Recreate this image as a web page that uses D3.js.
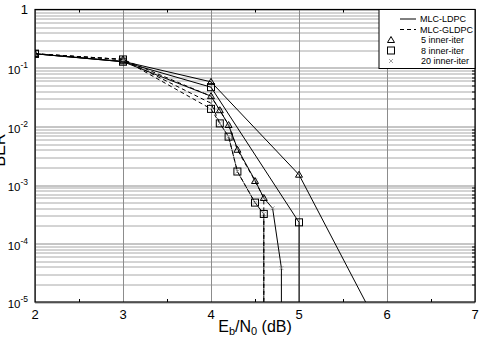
<!DOCTYPE html>
<html>
<head>
<meta charset="utf-8">
<script src="https://cdn.jsdelivr.net/npm/d3@7"></script>
<style>
  body { margin: 0; background: #fff; }
  svg { display: block; font-family: "Liberation Sans", Arial, sans-serif; }
</style>
</head>
<body>
<svg id="chart" width="482" height="338"></svg>
<script>
// Eb/N0 (dB) values and BER for each curve
const ldpc5 = [[2, 0.175], [3, 0.13], [4, 0.058], [5, 1.5e-3], [6, 2e-6]];
const ldpc8 = [[2, 0.175], [3, 0.128], [4, 0.047], [5, 2.3e-4], [5, 1e-7]];
const ldpc20 = [[2, 0.175], [3, 0.128], [4, 0.033], [4.1, 0.019], [4.2, 0.0106], [4.3, 4.2e-3],
  [4.5, 1.2e-3], [4.6, 6e-4], [4.7, 4e-4], [4.8, 3.8e-5], [4.8, 1e-7]];
const gldpc5 = [[2, 0.175], [3, 0.14], [4, 0.033], [4.1, 0.019], [4.2, 0.0106], [4.3, 4e-3],
  [4.5, 1.17e-3], [4.6, 6e-4], [4.6, 1e-7]];
const gldpc8 = [[2, 0.175], [3, 0.14], [4, 0.020], [4.1, 0.0113], [4.2, 6.7e-3], [4.3, 1.7e-3],
  [4.5, 5e-4], [4.6, 3.2e-4], [4.6, 1e-7]];
const gldpc20 = [[2, 0.175], [3, 0.14], [4, 0.025], [4.1, 0.0113], [4.2, 6.7e-3], [4.3, 1.7e-3],
  [4.5, 5e-4], [4.6, 3.2e-4], [4.6, 1e-7]];

const xTicks = [2, 3, 4, 5, 6, 7];
const yTicks = [1, 1e-1, 1e-2, 1e-3, 1e-4, 1e-5];
const legendLines = ['MLC-LDPC', 'MLC-GLDPC'];
const legendMarks = ['5 inner-iter', '8 inner-iter', '20 inner-iter'];

const series = [
  { data: ldpc5, dash: null, mark: 'tri' },
  { data: ldpc8, dash: null, mark: 'sq' },
  { data: ldpc20, dash: null, mark: 'x' },
  { data: gldpc5, dash: '4,3', mark: 'tri' },
  { data: gldpc8, dash: '4,3', mark: 'sq' },
  { data: gldpc20, dash: '4,3', mark: 'x' }
];

const margin = { top: 9.5, right: 7, bottom: 36, left: 35 };
const W = 482, H = 338;
const width = W - margin.left - margin.right;
const height = H - margin.top - margin.bottom;

const svg = d3.select('#chart');
const g = svg.append('g').attr('transform', `translate(${margin.left},${margin.top})`);

const x = d3.scaleLinear().domain([2, 7]).range([0, width]);
const y = d3.scaleLog().domain([1e-5, 1]).range([height, 0]);

svg.append('defs').append('clipPath').attr('id', 'clip')
  .append('rect').attr('width', width).attr('height', height);

// minor horizontal grid
const minorY = [];
for (let e = -5; e < 0; e++) for (let m = 2; m <= 9; m++) minorY.push(m * Math.pow(10, e));

g.append('g').selectAll('line').data(minorY).join('line')
  .attr('x1', 0).attr('x2', width)
  .attr('y1', d => Math.round(y(d)) + 0.5).attr('y2', d => Math.round(y(d)) + 0.5)
  .attr('stroke', '#a8a8a8').attr('stroke-width', 1);

g.append('g').selectAll('line').data(yTicks).join('line')
  .attr('x1', 0).attr('x2', width)
  .attr('y1', d => Math.round(y(d)) + 0.5).attr('y2', d => Math.round(y(d)) + 0.5)
  .attr('stroke', '#8c8c8c').attr('stroke-width', 1);

g.append('g').selectAll('line').data(xTicks).join('line')
  .attr('y1', 0).attr('y2', height)
  .attr('x1', d => Math.round(x(d)) + 0.5).attr('x2', d => Math.round(x(d)) + 0.5)
  .attr('stroke', '#8c8c8c').attr('stroke-width', 1);

// inside ticks, minor on x at .5
const halfX = [2.5, 3.5, 4.5, 5.5, 6.5];
const tk = g.append('g').attr('stroke', '#000').attr('stroke-width', 1);
halfX.forEach(v => {
  const px = Math.round(x(v)) + 0.5;
  tk.append('line').attr('x1', px).attr('x2', px).attr('y1', height).attr('y2', height - 3);
  tk.append('line').attr('x1', px).attr('x2', px).attr('y1', 0).attr('y2', 3);
});
minorY.forEach(v => {
  const py = Math.round(y(v)) + 0.5;
  tk.append('line').attr('x1', width).attr('x2', width - 3).attr('y1', py).attr('y2', py);
});

// curves
const line = d3.line().x(d => x(d[0])).y(d => y(d[1]));
const plot = g.append('g').attr('clip-path', 'url(#clip)');

series.forEach(s => {
  plot.append('path').datum(s.data)
    .attr('d', line)
    .attr('fill', 'none')
    .attr('stroke', '#000')
    .attr('stroke-width', 1)
    .attr('stroke-dasharray', s.dash);
});

function drawMark(sel, type, cx, cy) {
  if (type === 'tri') {
    sel.append('path')
      .attr('d', `M${cx},${cy - 3.5}L${cx + 3.5},${cy + 2.5}L${cx - 3.5},${cy + 2.5}Z`)
      .attr('fill', 'none').attr('stroke', '#000').attr('stroke-width', 1);
  } else if (type === 'sq') {
    sel.append('rect').attr('x', cx - 3.5).attr('y', cy - 3.5).attr('width', 7).attr('height', 7)
      .attr('fill', 'none').attr('stroke', '#000').attr('stroke-width', 1);
  } else {
    sel.append('path')
      .attr('d', `M${cx - 2},${cy - 2}L${cx + 2},${cy + 2}M${cx + 2},${cy - 2}L${cx - 2},${cy + 2}`)
      .attr('stroke', '#888').attr('stroke-width', 0.8);
  }
}

series.forEach(s => {
  s.data.forEach(d => {
    if (d[1] >= 1e-5) drawMark(plot, s.mark, x(d[0]), y(d[1]));
  });
});

// frame
g.append('rect').attr('width', width).attr('height', height)
  .attr('fill', 'none').attr('stroke', '#000').attr('stroke-width', 1.2);

// tick labels
g.append('g').selectAll('text').data(xTicks).join('text')
  .attr('x', d => x(d)).attr('y', height + 16.5)
  .attr('text-anchor', 'middle').attr('font-size', 13)
  .text(d => d);

const yl = g.append('g').selectAll('text').data(yTicks).join('text')
  .attr('x', -7).attr('y', d => y(d) + (d === 1 ? 4 : 6))
  .attr('text-anchor', 'end').attr('font-size', 11.5);
yl.each(function (d) {
  const t = d3.select(this);
  const e = Math.round(Math.log10(d));
  if (e === 0) { t.attr('font-size', 13).text('1'); return; }
  t.append('tspan').text('10');
  t.append('tspan').attr('dy', -6).attr('font-size', 8.5).text(e);
});

// axis titles
const xt = svg.append('text')
  .attr('x', 255).attr('y', 332)
  .attr('text-anchor', 'middle').attr('font-size', 16);
xt.append('tspan').text('E');
xt.append('tspan').attr('font-size', 11).attr('dy', 3).text('b');
xt.append('tspan').attr('dy', -3).text('/N');
xt.append('tspan').attr('font-size', 11).attr('dy', 3).text('0');
xt.append('tspan').attr('dy', -3).text(' (dB)');

svg.append('text')
  .attr('transform', `translate(5,150) rotate(-90)`)
  .attr('text-anchor', 'middle').attr('font-size', 16)
  .text('BER');

// legend
const lg = g.append('g').attr('transform', `translate(${x(7) - 96},0)`);
lg.append('rect').attr('width', 96).attr('height', 59)
  .attr('fill', '#fff').attr('stroke', '#000').attr('stroke-width', 1);
legendLines.forEach((t, i) => {
  const ly = 9.5 + i * 10.5;
  lg.append('line').attr('x1', 21).attr('x2', 37).attr('y1', ly).attr('y2', ly)
    .attr('stroke', '#000').attr('stroke-dasharray', i ? '4,3' : null);
  lg.append('text').attr('x', 41).attr('y', ly + 3.3).attr('font-size', 9).text(t);
});
const markTypes = ['tri', 'sq', 'x'];
legendMarks.forEach((t, i) => {
  const ly = 30.5 + i * 10.5;
  drawMark(lg, markTypes[i], 12, ly);
  lg.append('text').attr('x', 42).attr('y', ly + 3.3).attr('font-size', 9).text(t);
});
</script>
</body>
</html>
